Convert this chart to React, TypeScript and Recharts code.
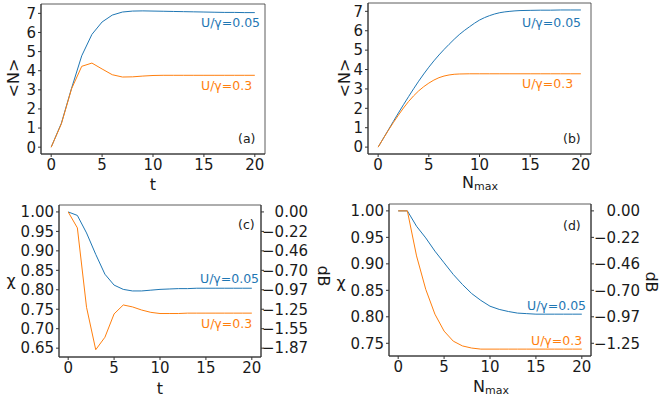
import { LineChart, Line, XAxis, YAxis, ReferenceArea } from 'recharts'

const BLUE = '#1f77b4'
const ORANGE = '#ff7f0e'
const INK = '#1a1a1a'
const SPINE = '#333'

// x values shared by every panel (t for a/c, N_max for b/d)
const steps = [0, 1, 2, 3, 4, 5, 6, 7, 8, 9, 10, 11, 12, 13, 14, 15, 16, 17, 18, 19, 20]
const xTicks = [0, 5, 10, 15, 20]

// (a) <N> vs t
const nT_low = [0, 1.25, 3.08, 4.78, 5.9, 6.55, 6.91, 7.07, 7.12, 7.13, 7.12, 7.11, 7.1, 7.09, 7.08, 7.07, 7.06, 7.05, 7.05, 7.04, 7.04]
const nT_high = [0, 1.22, 3.05, 4.23, 4.4, 4.09, 3.79, 3.67, 3.68, 3.72, 3.75, 3.76, 3.76, 3.76, 3.76, 3.76, 3.76, 3.76, 3.76, 3.76, 3.76]

// (b) <N> vs N_max
const nN_low = [0, 0.88, 1.76, 2.6, 3.4, 4.12, 4.75, 5.3, 5.8, 6.2, 6.55, 6.78, 6.93, 7.0, 7.04, 7.05, 7.06, 7.06, 7.07, 7.07, 7.07]
const nN_high = [0, 0.86, 1.65, 2.35, 2.9, 3.3, 3.58, 3.72, 3.77, 3.78, 3.78, 3.78, 3.78, 3.78, 3.78, 3.78, 3.78, 3.78, 3.78, 3.78, 3.78]
const nTicks = [0, 1, 2, 3, 4, 5, 6, 7]

// (c) chi vs t
const chiT_low = [1.0, 0.991, 0.946, 0.891, 0.84, 0.812, 0.801, 0.797, 0.797, 0.799, 0.801, 0.802, 0.803, 0.803, 0.804, 0.804, 0.804, 0.804, 0.804, 0.804, 0.804]
const chiT_high = [1.0, 0.959, 0.755, 0.646, 0.678, 0.738, 0.761, 0.756, 0.748, 0.742, 0.739, 0.739, 0.739, 0.74, 0.74, 0.74, 0.74, 0.74, 0.74, 0.74, 0.74]
const chiTicksC = [1.0, 0.95, 0.9, 0.85, 0.8, 0.75, 0.7, 0.65]
const dbLabelsC = ['0.00', '\u22120.22', '\u22120.46', '\u22120.70', '\u22120.97', '\u22121.25', '\u22121.55', '\u22121.87']

// (d) chi vs N_max
const chiN_low = [1.0, 1.0, 0.971, 0.949, 0.924, 0.902, 0.88, 0.861, 0.844, 0.831, 0.82, 0.814, 0.81, 0.807, 0.806, 0.805, 0.805, 0.805, 0.805, 0.805, 0.805]
const chiN_high = [1.0, 1.0, 0.915, 0.852, 0.805, 0.773, 0.754, 0.745, 0.741, 0.739, 0.739, 0.739, 0.739, 0.739, 0.739, 0.739, 0.739, 0.739, 0.739, 0.739, 0.739]
const chiTicksD = [1.0, 0.95, 0.9, 0.85, 0.8, 0.75]
const dbLabelsD = ['0.00', '\u22120.22', '\u22120.46', '\u22120.70', '\u22120.97', '\u22121.25']

const rows = (low: number[], high: number[]) =>
  steps.map((x, i) => ({ x, low: low[i], high: high[i] }))

const FS = 15
const tickStyle = { fontSize: FS, fill: INK }
const X_DOMAIN: [number, number] = [-1, 21]

function makeDbTick(ticks: number[], labels: string[], shift: number) {
  return (props: any) => {
    const { x, y, payload } = props
    const i = ticks.findIndex((t) => Math.abs(t - payload.value) < 1e-6)
    return (
      <text x={x + shift} y={y} dy="0.355em" textAnchor="end" fontSize={FS} fill={INK}>
        {labels[i]}
      </text>
    )
  }
}

interface PanelProps {
  left: number
  top: number
  width: number
  height: number
  margin: { top: number; right: number; bottom: number; left: number }
  yWidth: number
  xHeight: number
  low: number[]
  high: number[]
  yDomain: [number, number]
  yTicks: number[]
  decimals: number
  curve: 'linear' | 'monotone'
  rightTicks?: string[]
  rightWidth?: number
  rightShift?: number
}

function Panel(p: PanelProps) {
  const data = rows(p.low, p.high)
  return (
    <div style={{ position: 'absolute', left: p.left, top: p.top }}>
      <LineChart width={p.width} height={p.height} data={data} margin={p.margin}>
        <XAxis
          dataKey="x"
          type="number"
          domain={X_DOMAIN}
          ticks={xTicks}
          interval={0}
          height={p.xHeight}
          tick={tickStyle}
          tickSize={3}
          tickMargin={2}
          axisLine={{ stroke: SPINE }}
          tickLine={{ stroke: SPINE }}
        />
        <YAxis
          yAxisId="left"
          type="number"
          domain={p.yDomain}
          ticks={p.yTicks}
          interval={0}
          width={p.yWidth}
          tick={tickStyle}
          tickFormatter={(v: number) => v.toFixed(p.decimals)}
          tickSize={3}
          tickMargin={2}
          axisLine={{ stroke: SPINE }}
          tickLine={{ stroke: SPINE }}
        />
        {p.rightTicks && (
          <YAxis
            yAxisId="right"
            orientation="right"
            type="number"
            domain={p.yDomain}
            ticks={p.yTicks}
            interval={0}
            width={p.rightWidth}
            tick={makeDbTick(p.yTicks, p.rightTicks, p.rightShift ?? 42)}
            tickSize={3}
            tickMargin={2}
            axisLine={{ stroke: SPINE }}
            tickLine={{ stroke: SPINE }}
          />
        )}
        <ReferenceArea
          yAxisId="left"
          x1={X_DOMAIN[0]}
          x2={X_DOMAIN[1]}
          y1={p.yDomain[0]}
          y2={p.yDomain[1]}
          fill="none"
          stroke={SPINE}
          strokeWidth={0.8}
          ifOverflow="visible"
        />
        {p.rightTicks && (
          <Line yAxisId="right" dataKey="low" stroke="none" dot={false} activeDot={false} legendType="none" isAnimationActive={false} />
        )}
        <Line yAxisId="left" type={p.curve} dataKey="low" stroke={BLUE} strokeWidth={1} dot={false} isAnimationActive={false} />
        <Line yAxisId="left" type={p.curve} dataKey="high" stroke={ORANGE} strokeWidth={1} dot={false} isAnimationActive={false} />
      </LineChart>
    </div>
  )
}

function NMax({ x, y }: { x: number; y: number }) {
  return (
    <text x={x} y={y} textAnchor="middle" dominantBaseline="central" fontSize={16} fill={INK}>
      N<tspan fontSize={11} dy={4}>max</tspan>
    </text>
  )
}

export default function App() {
  const label = { fontSize: 16, fill: INK, textAnchor: 'middle' as const, dominantBaseline: 'central' as const }
  const note = { fontSize: 12.5, dominantBaseline: 'central' as const }
  return (
    <div
      style={{
        position: 'absolute',
        left: 0,
        top: 0,
        width: 661,
        height: 399,
        background: '#fff',
        fontFamily: '"DejaVu Sans", sans-serif',
      }}
    >
      <Panel
        left={0} top={0} width={330} height={195}
        margin={{ top: 4, right: 65, bottom: 0, left: 0 }}
        yWidth={41} xHeight={41}
        low={nT_low} high={nT_high}
        yDomain={[-0.357, 7.49]} yTicks={nTicks} decimals={0} curve="linear"
      />
      <Panel
        left={330} top={0} width={331} height={195}
        margin={{ top: 3, right: 70, bottom: 0, left: 0 }}
        yWidth={38} xHeight={41}
        low={nN_low} high={nN_high}
        yDomain={[-0.355, 7.43]} yTicks={nTicks} decimals={0} curve="monotone"
      />
      <Panel
        left={0} top={195} width={330} height={204}
        margin={{ top: 10, right: 0, bottom: 0, left: 0 }}
        yWidth={59} xHeight={42} rightWidth={69} rightShift={42}
        low={chiT_low} high={chiT_high}
        yDomain={[0.6273, 1.0178]} yTicks={chiTicksC} decimals={2} curve="linear"
        rightTicks={dbLabelsC}
      />
      <Panel
        left={330} top={195} width={331} height={204}
        margin={{ top: 9, right: 0, bottom: 0, left: 0 }}
        yWidth={59} xHeight={43} rightWidth={70} rightShift={44}
        low={chiN_low} high={chiN_high}
        yDomain={[0.726, 1.013]} yTicks={chiTicksD} decimals={2} curve="linear"
        rightTicks={dbLabelsD}
      />
      <svg width={661} height={399} style={{ position: 'absolute', left: 0, top: 0, pointerEvents: 'none' }}>
        {/* axis labels */}
        <text {...label} transform="translate(13,78) rotate(-90)">&lt;N&gt;</text>
        <text {...label} x={153} y={184}>t</text>
        <text {...label} transform="translate(344,78) rotate(-90)">&lt;N&gt;</text>
        <NMax x={480} y={182} />
        <text {...label} x={11} y={280}>χ</text>
        <text {...label} transform="translate(323,276) rotate(90)">dB</text>
        <text {...label} x={160} y={388}>t</text>
        <text {...label} x={341} y={282}>χ</text>
        <text {...label} transform="translate(651,282) rotate(90)">dB</text>
        <NMax x={491} y={386} />
        {/* panel annotations */}
        <text {...note} x={201} y={22} fill={BLUE}>U/γ=0.05</text>
        <text {...note} x={201} y={85} fill={ORANGE}>U/γ=0.3</text>
        <text {...note} x={238} y={138} fill={INK}>(a)</text>
        <text {...note} x={522} y={22} fill={BLUE}>U/γ=0.05</text>
        <text {...note} x={522} y={83} fill={ORANGE}>U/γ=0.3</text>
        <text {...note} x={563} y={138} fill={INK}>(b)</text>
        <text {...note} x={238} y={224} fill={INK}>(c)</text>
        <text {...note} x={200} y={278} fill={BLUE}>U/γ=0.05</text>
        <text {...note} x={201} y={323} fill={ORANGE}>U/γ=0.3</text>
        <text {...note} x={563} y={225} fill={INK}>(d)</text>
        <text {...note} x={527} y={305} fill={BLUE}>U/γ=0.05</text>
        <text {...note} x={531} y={340} fill={ORANGE}>U/γ=0.3</text>
      </svg>
    </div>
  )
}
